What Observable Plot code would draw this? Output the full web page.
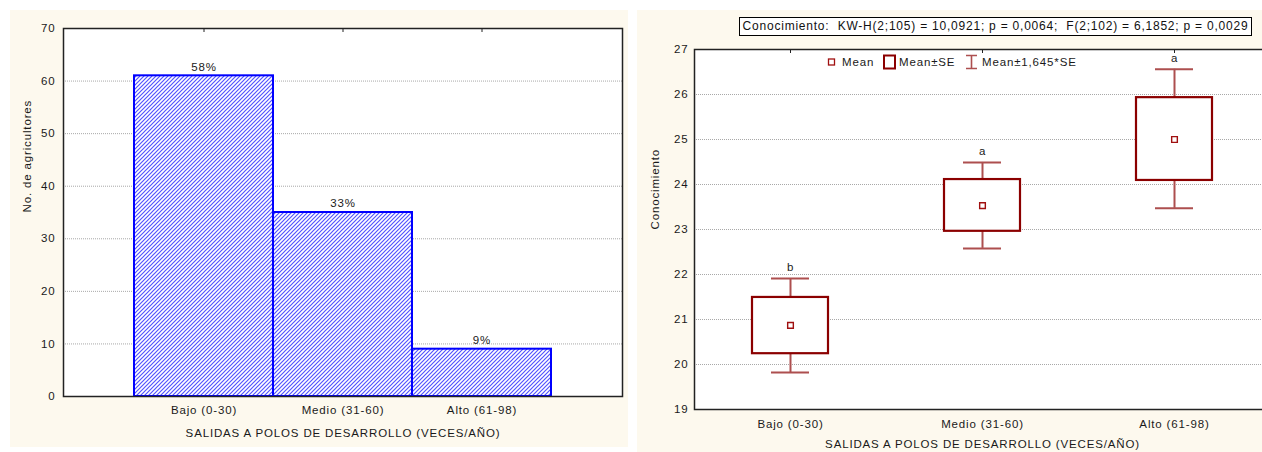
<!DOCTYPE html>
<html>
<head>
<meta charset="utf-8">
<script src="https://cdn.jsdelivr.net/npm/d3@7"></script>
<script src="https://cdn.jsdelivr.net/npm/@observablehq/plot@0.6"></script>
<style>
  body { margin: 0; background: #fff; }
  #wrap { position: relative; width: 1262px; height: 452px; overflow: hidden; background: #fff;
          font-family: "Liberation Sans", Arial, sans-serif; }
  #left { position: absolute; left: 10px; top: 10px; width: 618px; }
  #right { position: absolute; left: 637px; top: 10px; width: 653px; }
  #left svg, #right svg { max-width: none !important; }
  #stats { position: absolute; left: 739px; top: 17px; width: 511px; height: 17px;
           border: 1.5px solid #000; background: #fff; font-size: 12px; letter-spacing: 0.78px;
           line-height: 17px; text-align: center; color: #111; white-space: pre; }
</style>
</head>
<body>
<div id="wrap">
  <div id="left"></div>
  <div id="right"></div>
  <div id="stats"></div>
</div>
<script>
// ---- data ----
const categories = ["Bajo (0-30)", "Medio (31-60)", "Alto (61-98)"];
const farmers = [61, 35, 9];
const percentLabels = ["58%", "33%", "9%"];
const yTicksLeft = [0, 10, 20, 30, 40, 50, 60, 70];
const gridLeft = [10, 20, 30, 40, 50, 60];

const means = [20.87, 23.53, 25.0];
const seLow = [20.24, 22.96, 24.09];
const seHigh = [21.49, 24.11, 25.93];
const ciLow = [19.82, 22.58, 23.47];
const ciHigh = [21.91, 24.49, 26.56];
const groupLetters = ["b", "a", "a"];
const yTicksRight = [19, 20, 21, 22, 23, 24, 25, 26, 27];
const gridRight = [20, 21, 22, 23, 24, 25, 26];

const xTitle = "SALIDAS A POLOS DE DESARROLLO (VECES/AÑO)";
const yTitleLeft = "No. de agricultores";
const yTitleRight = "Conocimiento";
const statsText = "Conocimiento:  KW-H(2;105) = 10,0921; p = 0,0064;  F(2;102) = 6,1852; p = 0,0029";
const legendLabels = ["Mean", "Mean±SE", "Mean±1,645*SE"];

const font = { fontFamily: "Liberation Sans, Arial, sans-serif", fontSize: "11.5px", letterSpacing: "0.85px", color: "#1a1a1a", maxWidth: "none" };

// ---- left: bar chart ----
const barData = categories.map((c, i) => ({ cat: c, n: farmers[i], pct: percentLabels[i] }));
const left = Plot.plot({
  width: 618, height: 437,
  marginLeft: 53, marginRight: 6, marginTop: 18, marginBottom: 51,
  style: { ...font, background: "#fdf9ee" },
  x: { type: "band", domain: categories, paddingInner: 0, paddingOuter: 0.5 },
  y: { domain: [0, 70] },
  marks: [
    Plot.frame({ fill: "white", stroke: null }),
    Plot.gridY(gridLeft, { stroke: "#a8a8a8", strokeOpacity: 1, strokeDasharray: "1,1" }),
    Plot.barY(barData, { x: "cat", y: "n", fill: "url(#hatch)", stroke: "#0000ff", strokeWidth: 2, inset: 0 }),
    Plot.text(barData, { x: "cat", y: "n", text: "pct", dy: -9 }),
    Plot.axisY({ ticks: yTicksLeft, tickSize: 0, tickPadding: 8, label: null }),
    Plot.axisX({ tickSize: 0, tickPadding: 9, label: null }),
    Plot.axisX({ anchor: "top", tickSize: 3, dy: 3, tickFormat: () => "", label: null, stroke: "#222" }),
    Plot.text([xTitle], { frameAnchor: "bottom", dy: 40 }),
    Plot.text([yTitleLeft], { frameAnchor: "left", rotate: -90, dx: -36 }),
    Plot.frame({ stroke: "#222", strokeWidth: 1.5 })
  ]
});
d3.select(left).insert("defs", ":first-child").html(
  `<pattern id="hatch" patternUnits="userSpaceOnUse" width="4" height="4">
     <rect width="4" height="4" fill="#ffffff"/>
     <path d="M-1,1 l2,-2 M0,4 l4,-4 M3,5 l2,-2" stroke="#5252ff" stroke-width="1.2"/>
   </pattern>`);
document.getElementById("left").appendChild(left);

// ---- right: mean / SE / CI plot ----
const boxData = categories.map((c, i) => ({
  cat: c, mean: means[i], lo: seLow[i], hi: seHigh[i], wlo: ciLow[i], whi: ciHigh[i], letter: groupLetters[i]
}));
const whisk = "#ad4f4f";
const boxCol = "#8b0000";
const right = Plot.plot({
  width: 653, height: 450,
  marginLeft: 57, marginRight: 20, marginTop: 39, marginBottom: 51,
  style: { ...font, background: "#fdf9ee" },
  x: { type: "band", domain: categories, paddingInner: 0.604, paddingOuter: 0.302 },
  y: { domain: [19, 27] },
  marks: [
    Plot.frame({ fill: "white", stroke: null }),
    Plot.gridY(gridRight, { stroke: "#a8a8a8", strokeOpacity: 1, strokeDasharray: "1,1" }),
    Plot.ruleX(boxData, { x: "cat", y1: "wlo", y2: "lo", stroke: whisk, strokeWidth: 2 }),
    Plot.ruleX(boxData, { x: "cat", y1: "hi", y2: "whi", stroke: whisk, strokeWidth: 2 }),
    Plot.tickY(boxData, { x: "cat", y: "wlo", insetLeft: 19, insetRight: 19, stroke: whisk, strokeWidth: 2 }),
    Plot.tickY(boxData, { x: "cat", y: "whi", insetLeft: 19, insetRight: 19, stroke: whisk, strokeWidth: 2 }),
    Plot.barY(boxData, { x: "cat", y1: "lo", y2: "hi", fill: "white", stroke: boxCol, strokeWidth: 2.2, inset: 0 }),
    Plot.dot(boxData, { x: "cat", y: "mean", symbol: "square", r: 3.2, stroke: "#a01010", fill: "white", strokeWidth: 1.4 }),
    Plot.text(boxData, { x: "cat", y: "whi", text: "letter", dy: -11 }),
    Plot.axisY({ ticks: yTicksRight, tickSize: 0, tickPadding: 6, label: null }),
    Plot.axisX({ tickSize: 0, tickPadding: 10, label: null }),
    Plot.axisX({ anchor: "top", tickSize: 3, dy: 3, tickFormat: () => "", label: null, stroke: "#222" }),
    Plot.text([xTitle], { frameAnchor: "bottom", dy: 38 }),
    Plot.text([yTitleRight], { frameAnchor: "left", rotate: -90, dx: -39 }),
    Plot.frame({ stroke: "#222", strokeWidth: 1.5 })
  ]
});
// legend inside the plot (svg coordinates)
const lg = d3.select(right).append("g").attr("font-size", "11.5px").attr("fill", "#1a1a1a")
  .attr("text-anchor", "start");
const ly = 52;
lg.append("rect").attr("x", 191.5).attr("y", ly - 3).attr("width", 6).attr("height", 6)
  .attr("fill", "white").attr("stroke", "#a01010").attr("stroke-width", 1.3);
lg.append("text").attr("x", 205).attr("y", ly).attr("dy", "0.35em").text(legendLabels[0]);
lg.append("rect").attr("x", 247).attr("y", ly - 6.5).attr("width", 11).attr("height", 13)
  .attr("fill", "white").attr("stroke", boxCol).attr("stroke-width", 2);
lg.append("text").attr("x", 262).attr("y", ly).attr("dy", "0.35em").text(legendLabels[1]);
lg.append("path").attr("d", `M329,${ly - 6.5}h11M334.5,${ly - 6.5}v13M329,${ly + 6.5}h11`)
  .attr("stroke", whisk).attr("stroke-width", 1.6).attr("fill", "none");
lg.append("text").attr("x", 345).attr("y", ly).attr("dy", "0.35em").text(legendLabels[2]);
document.getElementById("right").appendChild(right);

document.getElementById("stats").textContent = statsText;
</script>
</body>
</html>
